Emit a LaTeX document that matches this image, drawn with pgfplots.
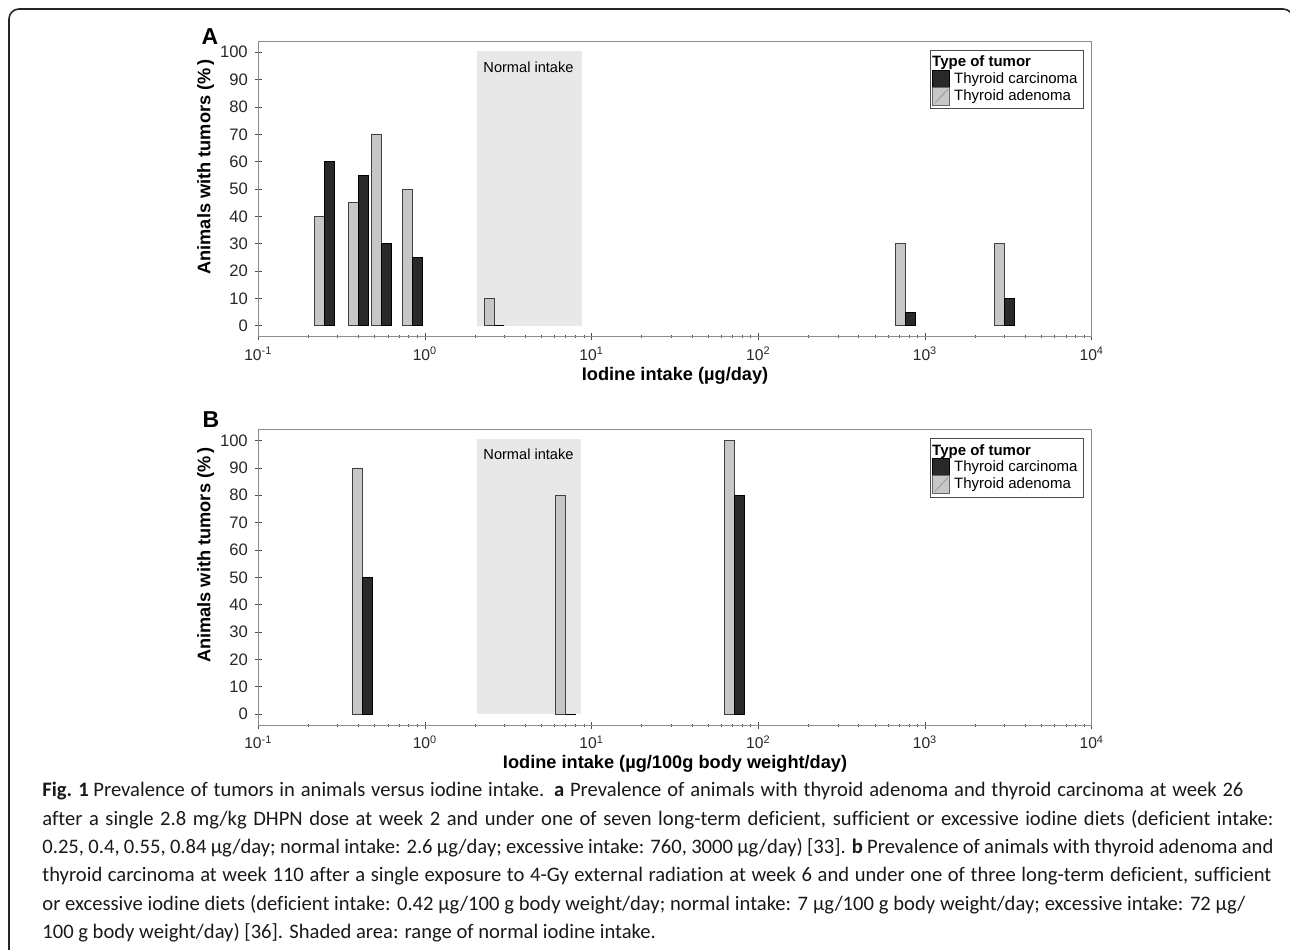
\documentclass[border=0pt]{standalone}
\usepackage{fontspec}
\setmainfont{Liberation Sans}
\newfontfamily\capfont[Ligatures=NoCommon]{Carlito}
\usepackage{pgfplots}
\pgfplotsset{compat=1.18}

\definecolor{adeno}{gray}{0.78}
\definecolor{carci}{gray}{0.16}
\definecolor{shade}{gray}{0.91}
\definecolor{axgray}{gray}{0.55}

\newcommand{\capline}[2]{\makebox[#1][s]{#2}}

\begin{document}
\begin{tikzpicture}
\path[use as bounding box] (0,0) rectangle (645pt,-474.5pt);
\begin{scope}[x=0.5pt,y=-0.5pt]
  \coordinate (Aorig) at (258.3,336.7);
  \coordinate (Borig) at (258.3,725);
  \begin{scope}
    \clip (0,0) rectangle (1290,949);
    \draw[line width=0.8pt, black!85, rounded corners=5pt] (9,1000) -- (9,9) -- (1293,9) -- (1293,1000);
  \end{scope}
  \node[font=\bfseries\fontsize{11.5}{13}\selectfont] at (210,37) {A};
  \node[font=\bfseries\fontsize{11.5}{13}\selectfont] at (211,420) {B};
  \node[anchor=north west, inner sep=0pt, align=left, text=black!90,
        font=\capfont\fontsize{10.3}{14.15}\selectfont] at (42,782) {%
    \textbf{Fig. 1} \capline{575pt}{Prevalence of tumors in animals versus iodine intake. \textbf{a} Prevalence of animals with thyroid adenoma and thyroid carcinoma at week 26}\\
    \capline{615.5pt}{after a single 2.8 mg/kg DHPN dose at week 2 and under one of seven long-term deficient, sufficient or excessive iodine diets (deficient intake:}\\
    \capline{615.5pt}{0.25, 0.4, 0.55, 0.84 µg/day; normal intake: 2.6 µg/day; excessive intake: 760, 3000 µg/day) [33]. \textbf{b} Prevalence of animals with thyroid adenoma and}\\
    \capline{614.5pt}{thyroid carcinoma at week 110 after a single exposure to 4-Gy external radiation at week 6 and under one of three long-term deficient, sufficient}\\
    \capline{601.5pt}{or excessive iodine diets (deficient intake: 0.42 µg/100 g body weight/day; normal intake: 7 µg/100 g body weight/day; excessive intake: 72 µg/}\\
    100 g body weight/day) [36]. Shaded area: range of normal iodine intake.};
\end{scope}

% Panel A
\begin{axis}[
    at={(Aorig)}, anchor=south west,
    scale only axis, width=416.75pt, height=147.7pt,
    xmode=log, xmin=0.1, xmax=10000, ymin=-4, ymax=104,
    xtick={0.1,1,10,100,1000,10000},
    xticklabels={10\textsuperscript{-1},10\textsuperscript{0},10\textsuperscript{1},10\textsuperscript{2},10\textsuperscript{3},10\textsuperscript{4}},
    ytick={0,10,...,100},
    xticklabel style={font=\fontsize{7.8}{9}\selectfont, text=black!85},
    yticklabel style={font=\fontsize{8.3}{10}\selectfont, text=black!85, /pgf/number format/assume math mode=true},
    label style={font=\bfseries\fontsize{9.1}{11}\selectfont},
    ylabel={Animals with tumors (\%\,)},
    ylabel style={at={(axis description cs:-0.063,0.575)}, anchor=center},
    xlabel={Iodine intake (µg/day)},
    xlabel style={at={(axis description cs:0.5,-0.133)}, anchor=center},
    axis line style={axgray, line width=0.5pt},
    tick style={black!70, line width=0.4pt},
    xtick pos=bottom, ytick pos=left,
    tick align=center,
    major tick length=3.5pt, minor tick length=1.5pt,
    legend style={at={(0.9906,0.9706)}, anchor=north east, draw=black!70,
      line width=0.4pt, fill=white, font=\fontsize{7.5}{9}\selectfont,
      inner xsep=1pt, inner ysep=0.8pt, row sep=-2.6pt},
    legend cell align=left,
  ]
  \addplot[fill=shade, draw=none, forget plot] coordinates {(2.04,0) (2.04,100.6) (8.7,100.6) (8.7,0)};
  \addplot[ybar, bar width=5pt, bar shift=-2.5pt, fill=adeno, draw=black!75, line width=0.4pt, forget plot] coordinates {(0.25,40) (0.4,45) (0.55,70) (0.84,50) (2.6,10) (760,30) (3000,30)};
  \addplot[ybar, bar width=5pt, bar shift=2.5pt, fill=carci, draw=black, line width=0.4pt, forget plot] coordinates {(0.25,60) (0.4,55) (0.55,30) (0.84,25) (2.6,0) (760,5) (3000,10)};
  \node[anchor=west, inner sep=0pt, font=\fontsize{7.3}{9}\selectfont] at (axis cs:2.23,94.5) {Normal intake};
  \addlegendimage{empty legend}
  \addlegendentry{\hspace{-11pt}\textbf{Type of tumor}}
  \addlegendimage{legend image code/.code={\draw[fill=carci,draw=black,line width=0.4pt] (0pt,-4.6pt) rectangle (8.5pt,4.6pt);}}
  \addlegendentry{Thyroid carcinoma}
  \addlegendimage{legend image code/.code={\draw[fill=adeno,draw=black!60,line width=0.4pt] (0pt,-4.6pt) rectangle (8.5pt,4.6pt); \draw[black!45,line width=0.3pt] (1pt,-3.5pt) -- (7.5pt,3.5pt);}}
  \addlegendentry{Thyroid adenoma}
\end{axis}

% Panel B
\begin{axis}[
    at={(Borig)}, anchor=south west,
    scale only axis, width=416.75pt, height=147.7pt,
    xmode=log, xmin=0.1, xmax=10000, ymin=-4, ymax=104,
    xtick={0.1,1,10,100,1000,10000},
    xticklabels={10\textsuperscript{-1},10\textsuperscript{0},10\textsuperscript{1},10\textsuperscript{2},10\textsuperscript{3},10\textsuperscript{4}},
    ytick={0,10,...,100},
    xticklabel style={font=\fontsize{7.8}{9}\selectfont, text=black!85},
    yticklabel style={font=\fontsize{8.3}{10}\selectfont, text=black!85, /pgf/number format/assume math mode=true},
    label style={font=\bfseries\fontsize{9.1}{11}\selectfont},
    ylabel={Animals with tumors (\%\,)},
    ylabel style={at={(axis description cs:-0.063,0.575)}, anchor=center},
    xlabel={Iodine intake (µg/100g body weight/day)},
    xlabel style={at={(axis description cs:0.5,-0.133)}, anchor=center},
    axis line style={axgray, line width=0.5pt},
    tick style={black!70, line width=0.4pt},
    xtick pos=bottom, ytick pos=left,
    tick align=center,
    major tick length=3.5pt, minor tick length=1.5pt,
    legend style={at={(0.9906,0.9706)}, anchor=north east, draw=black!70,
      line width=0.4pt, fill=white, font=\fontsize{7.5}{9}\selectfont,
      inner xsep=1pt, inner ysep=0.8pt, row sep=-2.6pt},
    legend cell align=left,
  ]
  \addplot[fill=shade, draw=none, forget plot] coordinates {(2.04,0) (2.04,100.6) (8.6,100.6) (8.6,0)};
  \addplot[ybar, bar width=5pt, bar shift=-2.5pt, fill=adeno, draw=black!75, line width=0.4pt, forget plot] coordinates {(0.42,90) (7,80) (72,100)};
  \addplot[ybar, bar width=5pt, bar shift=2.5pt, fill=carci, draw=black, line width=0.4pt, forget plot] coordinates {(0.42,50) (7,0) (72,80)};
  \node[anchor=west, inner sep=0pt, font=\fontsize{7.3}{9}\selectfont] at (axis cs:2.23,94.8) {Normal intake};
  \addlegendimage{empty legend}
  \addlegendentry{\hspace{-11pt}\textbf{Type of tumor}}
  \addlegendimage{legend image code/.code={\draw[fill=carci,draw=black,line width=0.4pt] (0pt,-4.6pt) rectangle (8.5pt,4.6pt);}}
  \addlegendentry{Thyroid carcinoma}
  \addlegendimage{legend image code/.code={\draw[fill=adeno,draw=black!60,line width=0.4pt] (0pt,-4.6pt) rectangle (8.5pt,4.6pt); \draw[black!45,line width=0.3pt] (1pt,-3.5pt) -- (7.5pt,3.5pt);}}
  \addlegendentry{Thyroid adenoma}
\end{axis}
\end{tikzpicture}
\end{document}
